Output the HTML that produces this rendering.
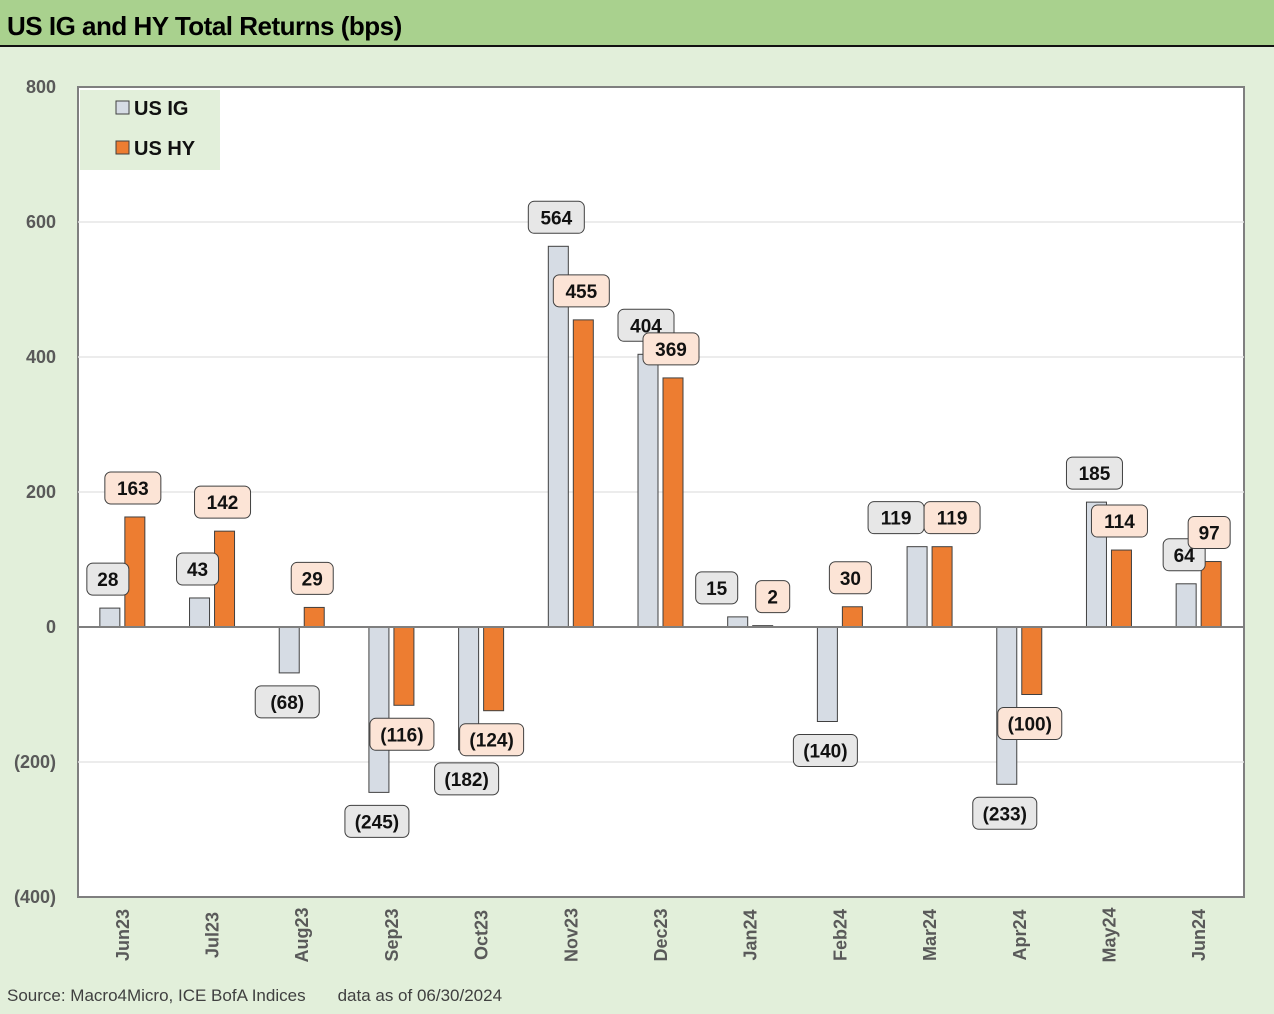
<!DOCTYPE html>
<html><head><meta charset="utf-8"><style>
body{margin:0;width:1274px;height:1014px;background:#e2efda;font-family:"Liberation Sans",sans-serif;position:relative;overflow:hidden}
#hdr{position:absolute;left:0;top:0;width:1274px;height:45px;background:#a9d18e;border-bottom:2px solid #111}
#hdr span{position:absolute;left:7px;top:11px;font-size:26px;font-weight:bold;color:#000;letter-spacing:-0.5px}
#src{position:absolute;left:7px;top:986px;font-size:17px;color:#404040}
svg{position:absolute;left:0;top:0}
</style></head><body>
<div id="hdr"><span>US IG and HY Total Returns (bps)</span></div>
<div id="src">Source: Macro4Micro, ICE BofA Indices<span style="display:inline-block;width:32px"></span>data as of 06/30/2024</div>
<svg id="chart" width="1274" height="1014"></svg>
<script>
const categories=["Jun23","Jul23","Aug23","Sep23","Oct23","Nov23","Dec23","Jan24","Feb24","Mar24","Apr24","May24","Jun24"];
const igValues=[28,43,-68,-245,-182,564,404,15,-140,119,-233,185,64];
const hyValues=[163,142,29,-116,-124,455,369,2,30,119,-100,114,97];
const yTicks=[800,600,400,200,0,-200,-400];
const yTickLabels=["800","600","400","200","0","(200)","(400)"];
const L=78,R=1244,T=87,B=897,yMin=-400,yMax=800;
const NS="http://www.w3.org/2000/svg";
const svg=document.getElementById('chart');
function y(v){return T+(yMax-v)*(B-T)/(yMax-yMin);}
const bw=(R-L)/categories.length;
function xc(i){return L+bw*(i+0.5);}
function mk(t,a,p){const e=document.createElementNS(NS,t);for(const k in a)e.setAttribute(k,a[k]);(p||svg).appendChild(e);return e;}
const plot=mk('rect',{x:L,y:T,width:R-L,height:B-T,fill:'#fff',stroke:'#7f7f7f','stroke-width':2});


yTicks.forEach((v,i)=>{
  if(v!==0&&v!==800&&v!==-400){const g=mk('line',{x1:L,x2:R,y1:y(v),y2:y(v),stroke:'#e6e6e6','stroke-width':1.5});
  
  }
  const t=mk('text',{x:56,y:y(v)+6,'text-anchor':'end','font-size':18,'font-weight':'bold',fill:'#595959'});
  t.textContent=yTickLabels[i];
  
  
});
function label(cx,v,fill,txt){
  const w=txt.length<=2?(txt.length==1?34:42):(txt.length==3?56:64),h=32;
  const cy=v>=0?y(v)-29:y(v)+29;
  const r=mk('rect',{x:cx-w/2,y:cy-h/2,width:w,height:h,rx:6,fill:fill,stroke:'#404040','stroke-width':1});
  
  
  const t=mk('text',{x:cx,y:cy+7,'text-anchor':'middle','font-size':19,'font-weight':'bold',fill:'#111'});
  t.textContent=txt;
  
  
}
function fmt(v){return v<0?'('+(-v)+')':String(v);}
categories.forEach((c,i)=>{
  const cx=xc(i);
  const ig=mk('rect',{x:cx-23,y:Math.min(y(0),y(igValues[i])),width:20,height:Math.abs(y(igValues[i])-y(0)),fill:'#d6dce4',stroke:'#404040','stroke-width':1});
  
  
  const hy=mk('rect',{x:cx+2,y:Math.min(y(0),y(hyValues[i])),width:20,height:Math.abs(y(hyValues[i])-y(0)),fill:'#ed7d31',stroke:'#404040','stroke-width':1});
  
  
  const t=mk('text',{x:0,y:0,'text-anchor':'middle','font-size':18,'font-weight':'bold',fill:'#595959',transform:`translate(${cx+6},935) rotate(-90)`});
  t.textContent=c;
  
  
});
const z=mk('line',{x1:L,x2:R,y1:y(0),y2:y(0),stroke:'#7f7f7f','stroke-width':2});


categories.forEach((c,i)=>{
  const close=Math.abs(igValues[i]-hyValues[i])<25;
  label(xc(i)-(close?34:15),igValues[i],'#e7e7e7',fmt(igValues[i]));
  label(xc(i)+(close?22:10),hyValues[i],'#fce4d6',fmt(hyValues[i]));
});
const lg=mk('rect',{x:80,y:90,width:140,height:80,fill:'#e2efda'});


[['US IG','#d6dce4',108],['US HY','#ed7d31',148]].forEach(([n,col,yy])=>{
  const s=mk('rect',{x:116,y:yy-7,width:13,height:13,fill:col,stroke:'#404040','stroke-width':1});
  
  
  const t=mk('text',{x:134,y:yy+7,'font-size':20,'font-weight':'bold',fill:'#111'});
  t.textContent=n;
  
  
});
</script>
</body></html>
